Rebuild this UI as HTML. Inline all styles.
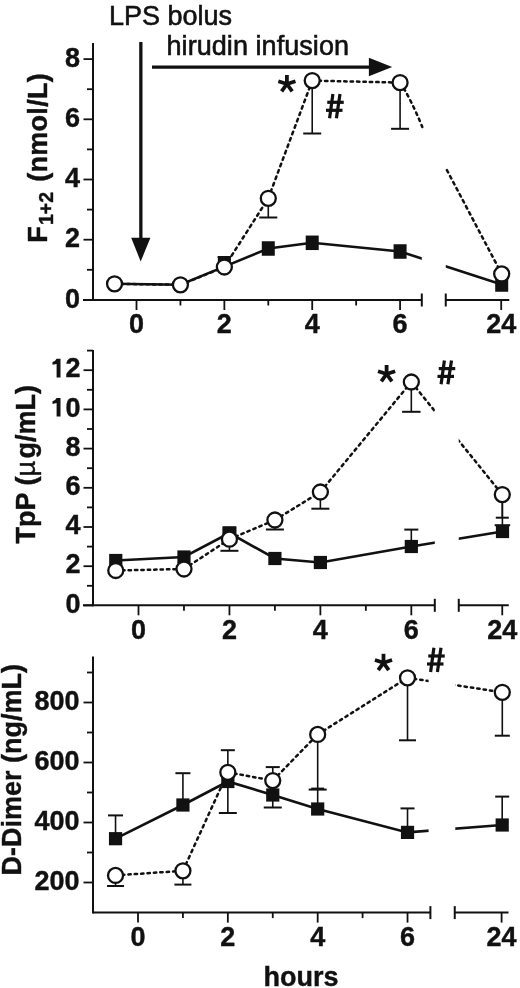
<!DOCTYPE html><html><head><meta charset="utf-8"><style>html,body{margin:0;padding:0;background:#fff;}svg{display:block;will-change:transform;}text{font-family:"Liberation Sans",sans-serif;fill:#111;stroke:#111;stroke-width:0.4px;}</style></head><body>
<svg width="520" height="988" viewBox="0 0 520 988">
<rect width="520" height="988" fill="#fff"/>
<defs><clipPath id="gap1"><rect x="0" y="0" width="421.8" height="988"/><rect x="445.75" y="0" width="100" height="988"/></clipPath>
<clipPath id="gap2"><rect x="0" y="0" width="434.8" height="988"/><rect x="458.75" y="0" width="100" height="988"/></clipPath>
<clipPath id="gap3"><rect x="0" y="0" width="428.6" height="988"/><rect x="455.3" y="0" width="100" height="988"/></clipPath></defs>
<line x1="93" y1="43" x2="93" y2="301.0" stroke="#111" stroke-width="2.0" />
<line x1="83.5" y1="299.9" x2="93" y2="299.9" stroke="#111" stroke-width="1.8" />
<line x1="83.5" y1="239.7" x2="93" y2="239.7" stroke="#111" stroke-width="1.8" />
<line x1="83.5" y1="179.49999999999997" x2="93" y2="179.49999999999997" stroke="#111" stroke-width="1.8" />
<line x1="83.5" y1="119.29999999999995" x2="93" y2="119.29999999999995" stroke="#111" stroke-width="1.8" />
<line x1="83.5" y1="59.099999999999966" x2="93" y2="59.099999999999966" stroke="#111" stroke-width="1.8" />
<line x1="87" y1="269.79999999999995" x2="93" y2="269.79999999999995" stroke="#111" stroke-width="1.8" />
<line x1="87" y1="209.59999999999997" x2="93" y2="209.59999999999997" stroke="#111" stroke-width="1.8" />
<line x1="87" y1="149.39999999999998" x2="93" y2="149.39999999999998" stroke="#111" stroke-width="1.8" />
<line x1="87" y1="89.19999999999996" x2="93" y2="89.19999999999996" stroke="#111" stroke-width="1.8" />
<line x1="83" y1="300" x2="421.8" y2="300" stroke="#111" stroke-width="2.0" />
<line x1="445.75" y1="300" x2="509.3" y2="300" stroke="#111" stroke-width="2.0" />
<line x1="421.8" y1="293.5" x2="421.8" y2="306.5" stroke="#111" stroke-width="2.0" />
<line x1="445.75" y1="293.5" x2="445.75" y2="306.5" stroke="#111" stroke-width="2.0" />
<line x1="136.5" y1="300" x2="136.5" y2="310" stroke="#111" stroke-width="1.8" />
<line x1="224.36" y1="300" x2="224.36" y2="310" stroke="#111" stroke-width="1.8" />
<line x1="312.22" y1="300" x2="312.22" y2="310" stroke="#111" stroke-width="1.8" />
<line x1="400.08" y1="300" x2="400.08" y2="310" stroke="#111" stroke-width="1.8" />
<line x1="180.43" y1="300" x2="180.43" y2="305.5" stroke="#111" stroke-width="1.8" />
<line x1="268.28999999999996" y1="300" x2="268.28999999999996" y2="305.5" stroke="#111" stroke-width="1.8" />
<line x1="356.15" y1="300" x2="356.15" y2="305.5" stroke="#111" stroke-width="1.8" />
<line x1="501.2" y1="300" x2="501.2" y2="310" stroke="#111" stroke-width="1.8" />
<text x="136.5" y="333.3" font-size="27" font-weight="bold" text-anchor="middle" >0</text>
<text x="224.36" y="333.3" font-size="27" font-weight="bold" text-anchor="middle" >2</text>
<text x="312.22" y="333.3" font-size="27" font-weight="bold" text-anchor="middle" >4</text>
<text x="400.08" y="333.3" font-size="27" font-weight="bold" text-anchor="middle" >6</text>
<text x="501.2" y="333.3" font-size="27" font-weight="bold" text-anchor="middle" >24</text>
<text x="80" y="307.5" font-size="27" font-weight="bold" text-anchor="end" >0</text>
<text x="80" y="247.29999999999998" font-size="27" font-weight="bold" text-anchor="end" >2</text>
<text x="80" y="187.09999999999997" font-size="27" font-weight="bold" text-anchor="end" >4</text>
<text x="80" y="126.89999999999995" font-size="27" font-weight="bold" text-anchor="end" >6</text>
<text x="80" y="66.69999999999996" font-size="27" font-weight="bold" text-anchor="end" >8</text>
<line x1="93" y1="350" x2="93" y2="606.3" stroke="#111" stroke-width="2.0" />
<line x1="83.5" y1="605.4" x2="93" y2="605.4" stroke="#111" stroke-width="1.8" />
<line x1="83.5" y1="566.1999999999999" x2="93" y2="566.1999999999999" stroke="#111" stroke-width="1.8" />
<line x1="83.5" y1="527.0" x2="93" y2="527.0" stroke="#111" stroke-width="1.8" />
<line x1="83.5" y1="487.79999999999995" x2="93" y2="487.79999999999995" stroke="#111" stroke-width="1.8" />
<line x1="83.5" y1="448.59999999999997" x2="93" y2="448.59999999999997" stroke="#111" stroke-width="1.8" />
<line x1="83.5" y1="409.4" x2="93" y2="409.4" stroke="#111" stroke-width="1.8" />
<line x1="83.5" y1="370.19999999999993" x2="93" y2="370.19999999999993" stroke="#111" stroke-width="1.8" />
<line x1="87" y1="585.8" x2="93" y2="585.8" stroke="#111" stroke-width="1.8" />
<line x1="87" y1="546.6" x2="93" y2="546.6" stroke="#111" stroke-width="1.8" />
<line x1="87" y1="507.4" x2="93" y2="507.4" stroke="#111" stroke-width="1.8" />
<line x1="87" y1="468.19999999999993" x2="93" y2="468.19999999999993" stroke="#111" stroke-width="1.8" />
<line x1="87" y1="429.0" x2="93" y2="429.0" stroke="#111" stroke-width="1.8" />
<line x1="87" y1="389.79999999999995" x2="93" y2="389.79999999999995" stroke="#111" stroke-width="1.8" />
<line x1="87" y1="350.59999999999997" x2="93" y2="350.59999999999997" stroke="#111" stroke-width="1.8" />
<line x1="83" y1="605.3" x2="434.8" y2="605.3" stroke="#111" stroke-width="2.0" />
<line x1="458.75" y1="605.3" x2="508.75" y2="605.3" stroke="#111" stroke-width="2.0" />
<line x1="434.8" y1="598.8" x2="434.8" y2="611.8" stroke="#111" stroke-width="2.0" />
<line x1="458.75" y1="598.8" x2="458.75" y2="611.8" stroke="#111" stroke-width="2.0" />
<line x1="138.5" y1="605.3" x2="138.5" y2="615.3" stroke="#111" stroke-width="1.8" />
<line x1="229.44" y1="605.3" x2="229.44" y2="615.3" stroke="#111" stroke-width="1.8" />
<line x1="320.38" y1="605.3" x2="320.38" y2="615.3" stroke="#111" stroke-width="1.8" />
<line x1="411.32" y1="605.3" x2="411.32" y2="615.3" stroke="#111" stroke-width="1.8" />
<line x1="183.97" y1="605.3" x2="183.97" y2="610.8" stroke="#111" stroke-width="1.8" />
<line x1="274.90999999999997" y1="605.3" x2="274.90999999999997" y2="610.8" stroke="#111" stroke-width="1.8" />
<line x1="365.85" y1="605.3" x2="365.85" y2="610.8" stroke="#111" stroke-width="1.8" />
<line x1="502.25" y1="605.3" x2="502.25" y2="615.3" stroke="#111" stroke-width="1.8" />
<text x="138.5" y="638.8" font-size="27" font-weight="bold" text-anchor="middle" >0</text>
<text x="229.44" y="638.8" font-size="27" font-weight="bold" text-anchor="middle" >2</text>
<text x="320.38" y="638.8" font-size="27" font-weight="bold" text-anchor="middle" >4</text>
<text x="411.32" y="638.8" font-size="27" font-weight="bold" text-anchor="middle" >6</text>
<text x="502.25" y="638.8" font-size="27" font-weight="bold" text-anchor="middle" >24</text>
<text x="80.5" y="612.6" font-size="27" font-weight="bold" text-anchor="end" >0</text>
<text x="80.5" y="573.4" font-size="27" font-weight="bold" text-anchor="end" >2</text>
<text x="80.5" y="534.2" font-size="27" font-weight="bold" text-anchor="end" >4</text>
<text x="80.5" y="494.99999999999994" font-size="27" font-weight="bold" text-anchor="end" >6</text>
<text x="80.5" y="455.79999999999995" font-size="27" font-weight="bold" text-anchor="end" >8</text>
<text x="80.5" y="416.59999999999997" font-size="27" font-weight="bold" text-anchor="end" >0</text>
<path d="M56.6,397.9 L60.5,397.9 L60.5,416.59999999999997 L56.6,416.59999999999997 L56.6,403.09999999999997 L52.5,403.9 L52.5,401.2 Q55.4,400.5 56.6,397.9 Z" fill="#111"/>
<text x="80.5" y="377.3999999999999" font-size="27" font-weight="bold" text-anchor="end" >2</text>
<path d="M56.6,358.69999999999993 L60.5,358.69999999999993 L60.5,377.3999999999999 L56.6,377.3999999999999 L56.6,363.8999999999999 L52.5,364.69999999999993 L52.5,361.99999999999994 Q55.4,361.29999999999995 56.6,358.69999999999993 Z" fill="#111"/>
<line x1="93" y1="656.5" x2="93" y2="913.6" stroke="#111" stroke-width="2.0" />
<line x1="83.5" y1="882.5" x2="93" y2="882.5" stroke="#111" stroke-width="1.8" />
<line x1="83.5" y1="822.5" x2="93" y2="822.5" stroke="#111" stroke-width="1.8" />
<line x1="83.5" y1="762.5" x2="93" y2="762.5" stroke="#111" stroke-width="1.8" />
<line x1="83.5" y1="702.5" x2="93" y2="702.5" stroke="#111" stroke-width="1.8" />
<line x1="87" y1="852.5" x2="93" y2="852.5" stroke="#111" stroke-width="1.8" />
<line x1="87" y1="792.5" x2="93" y2="792.5" stroke="#111" stroke-width="1.8" />
<line x1="87" y1="732.5" x2="93" y2="732.5" stroke="#111" stroke-width="1.8" />
<line x1="87" y1="672.5" x2="93" y2="672.5" stroke="#111" stroke-width="1.8" />
<line x1="93" y1="912.6" x2="430.4" y2="912.6" stroke="#111" stroke-width="2.0" />
<line x1="454.75" y1="912.6" x2="508.5" y2="912.6" stroke="#111" stroke-width="2.0" />
<line x1="430.4" y1="906.1" x2="430.4" y2="919.1" stroke="#111" stroke-width="2.0" />
<line x1="454.75" y1="906.1" x2="454.75" y2="919.1" stroke="#111" stroke-width="2.0" />
<line x1="138.0" y1="912.6" x2="138.0" y2="922.6" stroke="#111" stroke-width="1.8" />
<line x1="227.84" y1="912.6" x2="227.84" y2="922.6" stroke="#111" stroke-width="1.8" />
<line x1="317.68" y1="912.6" x2="317.68" y2="922.6" stroke="#111" stroke-width="1.8" />
<line x1="407.52" y1="912.6" x2="407.52" y2="922.6" stroke="#111" stroke-width="1.8" />
<line x1="182.92000000000002" y1="912.6" x2="182.92000000000002" y2="918.1" stroke="#111" stroke-width="1.8" />
<line x1="272.76" y1="912.6" x2="272.76" y2="918.1" stroke="#111" stroke-width="1.8" />
<line x1="362.6" y1="912.6" x2="362.6" y2="918.1" stroke="#111" stroke-width="1.8" />
<line x1="501.6" y1="912.6" x2="501.6" y2="922.6" stroke="#111" stroke-width="1.8" />
<text x="138.0" y="946.4" font-size="27" font-weight="bold" text-anchor="middle" >0</text>
<text x="227.84" y="946.4" font-size="27" font-weight="bold" text-anchor="middle" >2</text>
<text x="317.68" y="946.4" font-size="27" font-weight="bold" text-anchor="middle" >4</text>
<text x="407.52" y="946.4" font-size="27" font-weight="bold" text-anchor="middle" >6</text>
<text x="501.6" y="946.4" font-size="27" font-weight="bold" text-anchor="middle" >24</text>
<text x="79.5" y="889.7" font-size="27" font-weight="bold" text-anchor="end" >200</text>
<text x="79.5" y="829.7" font-size="27" font-weight="bold" text-anchor="end" >400</text>
<text x="79.5" y="769.7" font-size="27" font-weight="bold" text-anchor="end" >600</text>
<text x="79.5" y="709.7" font-size="27" font-weight="bold" text-anchor="end" >800</text>
<path d="M114.535,283.8 L180.43,284.8 L224.36,266.6 L268.28999999999996,248.5 L312.22,242.8 L400.08,251.5 L501.7,284.5" fill="none" stroke="#111" stroke-width="2.6" clip-path="url(#gap1)"/>
<path d="M114.53,283.80 L180.43,284.80" fill="none" stroke="#111" stroke-width="2.5" stroke-linecap="round" stroke-dasharray="2.41 3.99" stroke-dashoffset="0"/>
<path d="M180.43,284.80 L224.36,267.00" fill="none" stroke="#111" stroke-width="2.5" stroke-linecap="round" stroke-dasharray="2.46 4.01" stroke-dashoffset="0"/>
<path d="M224.36,267.00 L268.29,198.30" fill="none" stroke="#111" stroke-width="2.5" stroke-linecap="round" stroke-dasharray="2.65 4.11" stroke-dashoffset="0"/>
<path d="M268.29,198.30 L312.22,80.60" fill="none" stroke="#111" stroke-width="2.5" stroke-linecap="round" stroke-dasharray="2.71 4.13" stroke-dashoffset="0"/>
<path d="M312.22,80.60 L400.08,82.60" fill="none" stroke="#111" stroke-width="2.5" stroke-linecap="round" stroke-dasharray="2.41 3.99" stroke-dashoffset="0"/>
<path d="M400.1,82.6 Q410.4,97.75 422.3,127" fill="none" stroke="#111" stroke-width="2.5" stroke-linecap="round" stroke-dasharray="2.68 4.12"/>
<path d="M446.90,170.10 L501.70,273.90" fill="none" stroke="#111" stroke-width="2.5" stroke-linecap="round" stroke-dasharray="2.68 4.12" stroke-dashoffset="0"/>
<line x1="224.36" y1="263.5" x2="224.36" y2="257" stroke="#111" stroke-width="1.6" />
<line x1="217.61" y1="257" x2="231.11" y2="257" stroke="#111" stroke-width="2.0" />
<line x1="268.28999999999996" y1="198.3" x2="268.28999999999996" y2="217.5" stroke="#111" stroke-width="1.6" />
<line x1="259.28999999999996" y1="217.5" x2="277.28999999999996" y2="217.5" stroke="#111" stroke-width="2.0" />
<line x1="312.22" y1="80.6" x2="312.22" y2="133.5" stroke="#111" stroke-width="1.6" />
<line x1="303.22" y1="133.5" x2="321.22" y2="133.5" stroke="#111" stroke-width="2.0" />
<line x1="400.08" y1="82.6" x2="400.08" y2="128.8" stroke="#111" stroke-width="1.6" />
<line x1="391.08" y1="128.8" x2="409.08" y2="128.8" stroke="#111" stroke-width="2.0" />
<rect x="217.86" y="257.0" width="13" height="13" fill="#111"/>
<rect x="261.78999999999996" y="241.25" width="13" height="14.5" fill="#111"/>
<rect x="305.72" y="235.55" width="13" height="14.5" fill="#111"/>
<rect x="393.58" y="244.25" width="13" height="14.5" fill="#111"/>
<rect x="495.2" y="277.25" width="13" height="14.5" fill="#111"/>
<circle cx="114.535" cy="283.8" r="7.5" fill="#fff" stroke="#111" stroke-width="2.3"/>
<circle cx="180.43" cy="284.8" r="7.5" fill="#fff" stroke="#111" stroke-width="2.3"/>
<circle cx="224.36" cy="267" r="7.5" fill="#fff" stroke="#111" stroke-width="2.3"/>
<circle cx="268.28999999999996" cy="198.3" r="7.5" fill="#fff" stroke="#111" stroke-width="2.3"/>
<circle cx="312.22" cy="80.6" r="7.5" fill="#fff" stroke="#111" stroke-width="2.3"/>
<circle cx="400.08" cy="82.6" r="7.5" fill="#fff" stroke="#111" stroke-width="2.3"/>
<circle cx="501.7" cy="273.9" r="7.5" fill="#fff" stroke="#111" stroke-width="2.3"/>
<path d="M115.765,560.5 L183.97,557 L229.44,533 L274.90999999999997,558.5 L320.38,562.5 L411.32,546.5 L502.5,531.5" fill="none" stroke="#111" stroke-width="2.6" clip-path="url(#gap2)"/>
<path d="M115.77,570.50 L183.97,569.00" fill="none" stroke="#111" stroke-width="2.5" stroke-linecap="round" stroke-dasharray="2.41 3.99" stroke-dashoffset="0" clip-path="url(#gap2)"/>
<path d="M183.97,569.00 L229.44,539.20" fill="none" stroke="#111" stroke-width="2.5" stroke-linecap="round" stroke-dasharray="2.52 4.04" stroke-dashoffset="0" clip-path="url(#gap2)"/>
<path d="M229.44,539.20 L274.91,520.00" fill="none" stroke="#111" stroke-width="2.5" stroke-linecap="round" stroke-dasharray="2.47 4.01" stroke-dashoffset="0" clip-path="url(#gap2)"/>
<path d="M274.91,520.00 L320.38,492.00" fill="none" stroke="#111" stroke-width="2.5" stroke-linecap="round" stroke-dasharray="2.51 4.03" stroke-dashoffset="0" clip-path="url(#gap2)"/>
<path d="M320.38,492.00 L411.32,382.00" fill="none" stroke="#111" stroke-width="2.5" stroke-linecap="round" stroke-dasharray="2.62 4.09" stroke-dashoffset="0" clip-path="url(#gap2)"/>
<path d="M411.32,382.00 L502.30,494.60" fill="none" stroke="#111" stroke-width="2.5" stroke-linecap="round" stroke-dasharray="2.62 4.09" stroke-dashoffset="0" clip-path="url(#gap2)"/>
<line x1="229.44" y1="539.2" x2="229.44" y2="550.8" stroke="#111" stroke-width="1.6" />
<line x1="220.44" y1="550.8" x2="238.44" y2="550.8" stroke="#111" stroke-width="2.0" />
<line x1="274.90999999999997" y1="520" x2="274.90999999999997" y2="529.5" stroke="#111" stroke-width="1.6" />
<line x1="265.90999999999997" y1="529.5" x2="283.90999999999997" y2="529.5" stroke="#111" stroke-width="2.0" />
<line x1="320.38" y1="492" x2="320.38" y2="508.7" stroke="#111" stroke-width="1.6" />
<line x1="311.38" y1="508.7" x2="329.38" y2="508.7" stroke="#111" stroke-width="2.0" />
<line x1="411.32" y1="382" x2="411.32" y2="411.8" stroke="#111" stroke-width="1.6" />
<line x1="402.07" y1="411.8" x2="420.57" y2="411.8" stroke="#111" stroke-width="2.0" />
<line x1="411.32" y1="546.5" x2="411.32" y2="529.6" stroke="#111" stroke-width="1.6" />
<line x1="404.32" y1="529.6" x2="418.32" y2="529.6" stroke="#111" stroke-width="2.0" />
<line x1="502.3" y1="494.6" x2="502.3" y2="517.7" stroke="#111" stroke-width="1.6" />
<line x1="495.8" y1="517.7" x2="508.8" y2="517.7" stroke="#111" stroke-width="2.0" />
<line x1="502.4" y1="531.5" x2="502.4" y2="525.2" stroke="#111" stroke-width="1.6" />
<line x1="494.65" y1="525.2" x2="510.15" y2="525.2" stroke="#111" stroke-width="2.0" />
<line x1="502.4" y1="494.6" x2="502.4" y2="526" stroke="#111" stroke-width="1.6" />
<rect x="109.165" y="553.9" width="13.2" height="13.2" fill="#111"/>
<rect x="177.37" y="550.4" width="13.2" height="13.2" fill="#111"/>
<rect x="222.84" y="526.4" width="13.2" height="13.2" fill="#111"/>
<rect x="268.30999999999995" y="551.9" width="13.2" height="13.2" fill="#111"/>
<rect x="313.78" y="555.9" width="13.2" height="13.2" fill="#111"/>
<rect x="404.71999999999997" y="539.9" width="13.2" height="13.2" fill="#111"/>
<rect x="495.9" y="524.9" width="13.2" height="13.2" fill="#111"/>
<rect x="222.44" y="526.5" width="14" height="14" fill="#111"/>
<circle cx="115.765" cy="570.5" r="7.5" fill="#fff" stroke="#111" stroke-width="2.3"/>
<circle cx="183.97" cy="569" r="7.5" fill="#fff" stroke="#111" stroke-width="2.3"/>
<circle cx="229.44" cy="539.2" r="7.5" fill="#fff" stroke="#111" stroke-width="2.3"/>
<circle cx="274.90999999999997" cy="520" r="7.5" fill="#fff" stroke="#111" stroke-width="2.3"/>
<circle cx="320.38" cy="492" r="7.5" fill="#fff" stroke="#111" stroke-width="2.3"/>
<circle cx="411.32" cy="382" r="7.5" fill="#fff" stroke="#111" stroke-width="2.3"/>
<circle cx="502.3" cy="494.6" r="7.5" fill="#fff" stroke="#111" stroke-width="2.3"/>
<path d="M115.53999999999999,838.7 L182.92000000000002,805 L227.84,781.5 L272.76,795 L317.68,809 L407.52,832.4 L502.2,825" fill="none" stroke="#111" stroke-width="2.6" clip-path="url(#gap3)"/>
<path d="M115.54,875.40 L182.92,870.80" fill="none" stroke="#111" stroke-width="2.5" stroke-linecap="round" stroke-dasharray="2.41 3.99" stroke-dashoffset="0" clip-path="url(#gap3)"/>
<path d="M182.92,870.80 L227.84,772.30" fill="none" stroke="#111" stroke-width="2.5" stroke-linecap="round" stroke-dasharray="2.69 4.12" stroke-dashoffset="0" clip-path="url(#gap3)"/>
<path d="M227.84,772.30 L272.76,780.60" fill="none" stroke="#111" stroke-width="2.5" stroke-linecap="round" stroke-dasharray="2.42 3.99" stroke-dashoffset="0" clip-path="url(#gap3)"/>
<path d="M272.76,780.60 L317.68,734.40" fill="none" stroke="#111" stroke-width="2.5" stroke-linecap="round" stroke-dasharray="2.59 4.07" stroke-dashoffset="0" clip-path="url(#gap3)"/>
<path d="M317.68,734.40 L407.52,677.80" fill="none" stroke="#111" stroke-width="2.5" stroke-linecap="round" stroke-dasharray="2.51 4.04" stroke-dashoffset="0" clip-path="url(#gap3)"/>
<path d="M407.52,677.80 L502.30,692.30" fill="none" stroke="#111" stroke-width="2.5" stroke-linecap="round" stroke-dasharray="2.42 3.99" stroke-dashoffset="0" clip-path="url(#gap3)"/>
<line x1="115.53999999999999" y1="875.4" x2="115.53999999999999" y2="886" stroke="#111" stroke-width="1.6" />
<line x1="107.03999999999999" y1="886" x2="124.03999999999999" y2="886" stroke="#111" stroke-width="2.0" />
<line x1="115.53999999999999" y1="838.7" x2="115.53999999999999" y2="815.4" stroke="#111" stroke-width="1.6" />
<line x1="108.03999999999999" y1="815.4" x2="123.03999999999999" y2="815.4" stroke="#111" stroke-width="2.0" />
<line x1="182.92000000000002" y1="805" x2="182.92000000000002" y2="773.2" stroke="#111" stroke-width="1.6" />
<line x1="175.42000000000002" y1="773.2" x2="190.42000000000002" y2="773.2" stroke="#111" stroke-width="2.0" />
<line x1="182.92000000000002" y1="870.8" x2="182.92000000000002" y2="884.6" stroke="#111" stroke-width="1.6" />
<line x1="174.42000000000002" y1="884.6" x2="191.42000000000002" y2="884.6" stroke="#111" stroke-width="2.0" />
<line x1="227.84" y1="772.3" x2="227.84" y2="750.2" stroke="#111" stroke-width="1.6" />
<line x1="220.84" y1="750.2" x2="234.84" y2="750.2" stroke="#111" stroke-width="2.0" />
<line x1="227.84" y1="781.5" x2="227.84" y2="813" stroke="#111" stroke-width="1.6" />
<line x1="218.84" y1="813" x2="236.84" y2="813" stroke="#111" stroke-width="2.0" />
<line x1="272.76" y1="780.6" x2="272.76" y2="767.1" stroke="#111" stroke-width="1.6" />
<line x1="265.76" y1="767.1" x2="279.76" y2="767.1" stroke="#111" stroke-width="2.0" />
<line x1="272.76" y1="795" x2="272.76" y2="807.5" stroke="#111" stroke-width="1.6" />
<line x1="263.76" y1="807.5" x2="281.76" y2="807.5" stroke="#111" stroke-width="2.0" />
<line x1="317.68" y1="734.4" x2="317.68" y2="789.6" stroke="#111" stroke-width="1.6" />
<line x1="308.68" y1="789.6" x2="326.68" y2="789.6" stroke="#111" stroke-width="2.0" />
<line x1="317.68" y1="809" x2="317.68" y2="788.6" stroke="#111" stroke-width="1.6" />
<line x1="311.18" y1="788.6" x2="324.18" y2="788.6" stroke="#111" stroke-width="2.0" />
<line x1="407.52" y1="677.8" x2="407.52" y2="740.3" stroke="#111" stroke-width="1.6" />
<line x1="399.02" y1="740.3" x2="416.02" y2="740.3" stroke="#111" stroke-width="2.0" />
<line x1="407.52" y1="832.4" x2="407.52" y2="808.4" stroke="#111" stroke-width="1.6" />
<line x1="400.52" y1="808.4" x2="414.52" y2="808.4" stroke="#111" stroke-width="2.0" />
<line x1="502.3" y1="692.3" x2="502.3" y2="735.7" stroke="#111" stroke-width="1.6" />
<line x1="494.8" y1="735.7" x2="509.8" y2="735.7" stroke="#111" stroke-width="2.0" />
<line x1="502.2" y1="825" x2="502.2" y2="796.6" stroke="#111" stroke-width="1.6" />
<line x1="495.2" y1="796.6" x2="509.2" y2="796.6" stroke="#111" stroke-width="2.0" />
<rect x="108.94" y="832.1" width="13.2" height="13.2" fill="#111"/>
<rect x="176.32000000000002" y="798.4" width="13.2" height="13.2" fill="#111"/>
<rect x="221.24" y="774.9" width="13.2" height="13.2" fill="#111"/>
<rect x="266.15999999999997" y="788.4" width="13.2" height="13.2" fill="#111"/>
<rect x="311.08" y="802.4" width="13.2" height="13.2" fill="#111"/>
<rect x="400.91999999999996" y="825.8" width="13.2" height="13.2" fill="#111"/>
<rect x="495.59999999999997" y="818.4" width="13.2" height="13.2" fill="#111"/>
<circle cx="115.53999999999999" cy="875.4" r="7.5" fill="#fff" stroke="#111" stroke-width="2.3"/>
<circle cx="182.92000000000002" cy="870.8" r="7.5" fill="#fff" stroke="#111" stroke-width="2.3"/>
<circle cx="227.84" cy="772.3" r="7.5" fill="#fff" stroke="#111" stroke-width="2.3"/>
<circle cx="272.76" cy="780.6" r="7.5" fill="#fff" stroke="#111" stroke-width="2.3"/>
<circle cx="317.68" cy="734.4" r="7.5" fill="#fff" stroke="#111" stroke-width="2.3"/>
<circle cx="407.52" cy="677.8" r="7.5" fill="#fff" stroke="#111" stroke-width="2.3"/>
<circle cx="502.3" cy="692.3" r="7.5" fill="#fff" stroke="#111" stroke-width="2.3"/>
<line x1="286.9" y1="84.0" x2="286.9" y2="75.0" stroke="#111" stroke-width="3.8" />
<line x1="286.9" y1="84.0" x2="295.46" y2="81.22" stroke="#111" stroke-width="3.8" />
<line x1="286.9" y1="84.0" x2="278.34" y2="81.22" stroke="#111" stroke-width="3.8" />
<line x1="286.9" y1="84.0" x2="281.61" y2="91.28" stroke="#111" stroke-width="3.8" />
<line x1="286.9" y1="84.0" x2="292.19" y2="91.28" stroke="#111" stroke-width="3.8" />
<line x1="332.9" y1="94.0" x2="329.6" y2="118.3" stroke="#111" stroke-width="3.2" />
<line x1="340.0" y1="94.0" x2="336.4" y2="118.3" stroke="#111" stroke-width="3.2" />
<line x1="327.25" y1="102.3" x2="343.75" y2="102.3" stroke="#111" stroke-width="3.2" />
<line x1="326.0" y1="110.3" x2="342.5" y2="110.3" stroke="#111" stroke-width="3.2" />
<line x1="386.6" y1="374.0" x2="386.6" y2="365.0" stroke="#111" stroke-width="3.8" />
<line x1="386.6" y1="374.0" x2="395.16" y2="371.22" stroke="#111" stroke-width="3.8" />
<line x1="386.6" y1="374.0" x2="378.04" y2="371.22" stroke="#111" stroke-width="3.8" />
<line x1="386.6" y1="374.0" x2="381.31" y2="381.28" stroke="#111" stroke-width="3.8" />
<line x1="386.6" y1="374.0" x2="391.89" y2="381.28" stroke="#111" stroke-width="3.8" />
<line x1="444.4" y1="360.5" x2="441.1" y2="384.2" stroke="#111" stroke-width="3.2" />
<line x1="451.5" y1="360.5" x2="447.9" y2="384.2" stroke="#111" stroke-width="3.2" />
<line x1="438.75" y1="368.5950617283951" x2="455.25" y2="368.5950617283951" stroke="#111" stroke-width="3.2" />
<line x1="437.5" y1="376.3975308641975" x2="454.0" y2="376.3975308641975" stroke="#111" stroke-width="3.2" />
<line x1="383.5" y1="662.8" x2="383.5" y2="653.8" stroke="#111" stroke-width="3.8" />
<line x1="383.5" y1="662.8" x2="392.06" y2="660.02" stroke="#111" stroke-width="3.8" />
<line x1="383.5" y1="662.8" x2="374.94" y2="660.02" stroke="#111" stroke-width="3.8" />
<line x1="383.5" y1="662.8" x2="378.21" y2="670.08" stroke="#111" stroke-width="3.8" />
<line x1="383.5" y1="662.8" x2="388.79" y2="670.08" stroke="#111" stroke-width="3.8" />
<line x1="433.9" y1="647.7" x2="430.6" y2="672.0" stroke="#111" stroke-width="3.2" />
<line x1="441.0" y1="647.7" x2="437.4" y2="672.0" stroke="#111" stroke-width="3.2" />
<line x1="428.25" y1="656.0" x2="444.75" y2="656.0" stroke="#111" stroke-width="3.2" />
<line x1="427.0" y1="664.0" x2="443.5" y2="664.0" stroke="#111" stroke-width="3.2" />
<text x="109" y="24.8" font-size="27" font-weight="normal" text-anchor="start" style="stroke-width:0.6px">LPS bolus</text>
<text x="166.5" y="55" font-size="27" font-weight="normal" text-anchor="start" style="stroke-width:0.6px" letter-spacing="0.06">hirudin infusion</text>
<line x1="140.85" y1="42" x2="140.85" y2="240" stroke="#111" stroke-width="3.3" />
<path d="M131.2,237.8 L150.4,237.8 L140.7,261.5 Z" fill="#111"/>
<line x1="152" y1="67.1" x2="371" y2="67.1" stroke="#111" stroke-width="3.4" />
<path d="M368.9,57.7 L392.2,67.1 L368.9,76.2 Z" fill="#111"/>
<text transform="translate(47.3,242.8) rotate(-90)" font-size="27" font-weight="bold">F<tspan font-size="19.5" dy="5.5" dx="1.3">1+2</tspan><tspan dy="-5.5" dx="2.3" letter-spacing="0.3"> (nmol/L)</tspan></text>
<text transform="translate(34.6,543.5) rotate(-90)" font-size="27" font-weight="bold">TpP (<tspan font-weight="normal">µ</tspan><tspan dx="2.4">g/mL)</tspan></text>
<text transform="translate(21.4,875.5) rotate(-90)" font-size="27" font-weight="bold">D-Dimer (ng/mL)</text>
<text x="301" y="986" font-size="27" font-weight="bold" text-anchor="middle" >hours</text>
</svg></body></html>
